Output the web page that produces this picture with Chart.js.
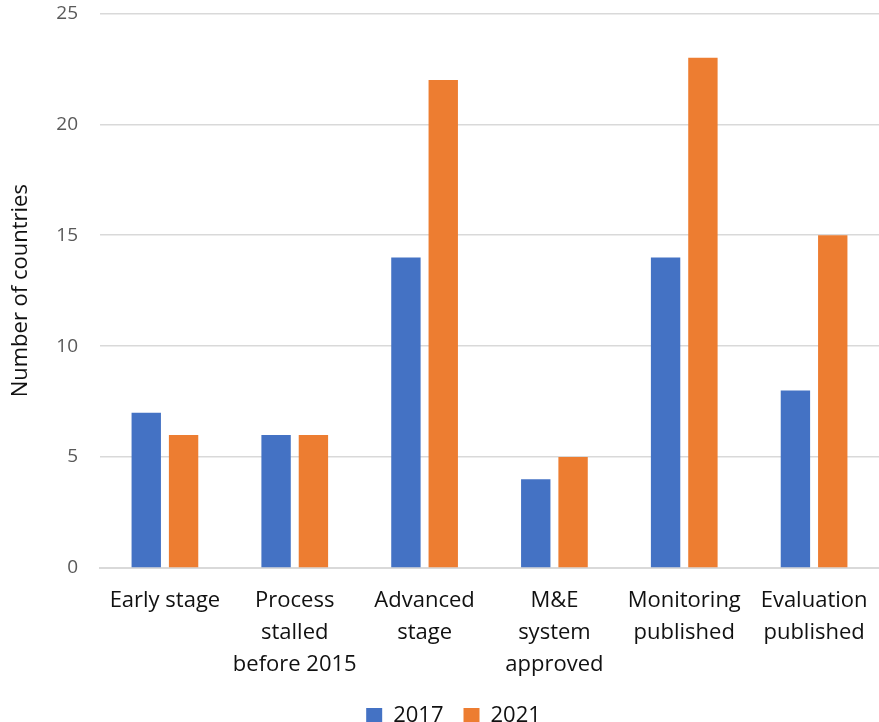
<!DOCTYPE html>
<html>
<head>
<meta charset="utf-8">
<script src="https://cdn.jsdelivr.net/npm/chart.js@4"></script>
<style>
  html, body { margin: 0; padding: 0; background: #fff; }
  #wrap { width: 879px; height: 722px; }
</style>
</head>
<body>
<div id="wrap"><canvas id="chart" width="879" height="722"></canvas></div>
<script>
// data
const categories = [
  ['Early stage'],
  ['Process', 'stalled', 'before 2015'],
  ['Advanced', 'stage'],
  ['M&E', 'system', 'approved'],
  ['Monitoring', 'published'],
  ['Evaluation', 'published']
];
const values2017 = [7, 6, 14, 4, 14, 8];
const values2021 = [6, 6, 22, 5, 23, 15];
const yTicks = [0, 5, 10, 15, 20, 25];

const FONT = '"Open Sans", Lato, sans-serif';
const CLEAR = 'rgba(0,0,0,0)';

new Chart(document.getElementById('chart'), {
  type: 'bar',
  data: {
    labels: categories,
    datasets: [
      { label: '2017', data: values2017, backgroundColor: '#4472C4' },
      { label: '2021', data: values2021, backgroundColor: '#ED7D31' }
    ]
  },
  options: {
    responsive: false,
    animation: false,
    devicePixelRatio: 1,
    // left padding nudges the centred legend right; y axis width shrinks to match
    layout: { padding: { top: 13, right: 0, bottom: -15, left: 28 } },
    datasets: {
      bar: { categoryPercentage: 0.575, barPercentage: 0.787 }
    },
    plugins: {
      tooltip: { enabled: false },
      legend: {
        position: 'bottom',
        labels: {
          font: { family: FONT, size: 22 },
          color: '#111',
          boxWidth: 16,
          boxHeight: 16,
          padding: 20
        }
      }
    },
    scales: {
      x: {
        // invisible tick marks keep the gap without eating the right edge
        grid: { display: true, drawOnChartArea: false, drawTicks: true, tickLength: 15, tickColor: CLEAR },
        border: { color: '#d9d9d9', width: 2 },
        ticks: {
          font: { family: FONT, size: 22, lineHeight: 1.45 },
          color: '#111',
          padding: 2,
          maxRotation: 0,
          autoSkip: false
        },
        afterFit: s => { s.height = 117; }
      },
      y: {
        min: 0,
        max: 25,
        afterBuildTicks: s => { s.ticks = yTicks.map(v => ({ value: v })); },
        grid: { color: '#d9d9d9', lineWidth: 1.5, drawTicks: true, tickLength: 20, tickColor: CLEAR },
        border: { display: false },
        ticks: {
          font: { family: FONT, size: 19 },
          color: '#595959',
          padding: 2
        },
        title: {
          display: true,
          text: 'Number of countries',
          font: { family: FONT, size: 22 },
          color: '#111',
          padding: { top: -20, bottom: 4 }
        },
        afterFit: s => { s.width = 72; }
      }
    }
  }
});
</script>
</body>
</html>
